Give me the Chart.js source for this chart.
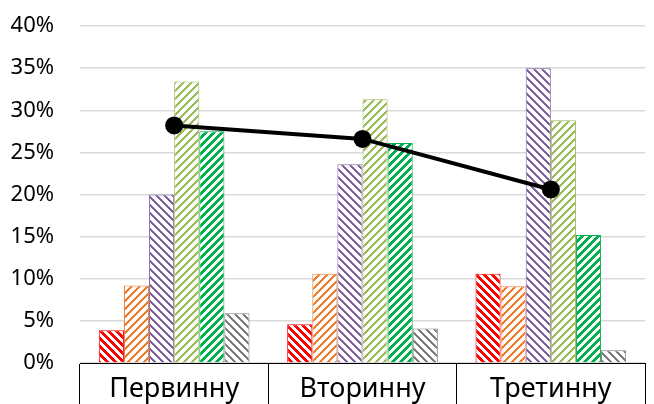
<!DOCTYPE html>
<html>
<head>
<meta charset="utf-8">
<script src="https://cdn.jsdelivr.net/npm/chart.js@4"></script>
<style>
  html, body { margin: 0; padding: 0; background: #fff; overflow: hidden; }
  #wrap { width: 654px; height: 404px; }
</style>
</head>
<body>
<div id="wrap"><canvas id="chart"></canvas></div>
<script>
const categories = ['Первинну', 'Вторинну', 'Третинну'];

// six hatched bar series (percent values)
const seriesRed = [3.9, 4.6, 10.6];
const seriesOrange = [9.2, 10.6, 9.1];
const seriesPurple = [20.0, 23.6, 35.0];
const seriesLightGreen = [33.4, 31.3, 28.8];
const seriesGreen = [27.5, 26.1, 15.2];
const seriesGray = [5.9, 4.1, 1.5];

// black line on top
const lineValues = [28.2, 26.6, 20.6];

const yTicks = [0, 5, 10, 15, 20, 25, 30, 35, 40];

// crisp pixel hatch, like the office "wide diagonal" fills
function makeHatch(color, dir, w) {
    const size = 8;
    const c = document.createElement('canvas');
    c.width = size;
    c.height = size;
    const g = c.getContext('2d');
    g.fillStyle = '#fff';
    g.fillRect(0, 0, size, size);
    g.fillStyle = color;
    for (let y = 0; y < size; y++) {
        for (let x = 0; x < size; x++) {
            const k = dir === 'down' ? (x - y + size * 2) % size : (x + y) % size;
            if (k < w) g.fillRect(x, y, 1, 1);
        }
    }
    return g.createPattern(c, 'repeat');
}

function barSet(label, data, color, dir, w) {
    return {
        type: 'bar',
        label: label,
        data: data,
        backgroundColor: makeHatch(color, dir, w),
        borderColor: color,
        borderWidth: 1,
        order: 1
    };
}

const ctx = document.getElementById('chart').getContext('2d');

new Chart(ctx, {
    data: {
        labels: categories,
        datasets: [
            {
                type: 'line',
                label: 'line',
                data: lineValues,
                borderColor: '#000',
                backgroundColor: '#000',
                borderWidth: 4,
                pointRadius: 9,
                pointHoverRadius: 9,
                pointBackgroundColor: '#000',
                pointBorderWidth: 0,
                tension: 0,
                order: 0
            },
            barSet('s1', seriesRed, '#FF0000', 'down', 4),
            barSet('s2', seriesOrange, '#ED7D31', 'up', 3),
            barSet('s3', seriesPurple, '#8064A2', 'down', 3),
            barSet('s4', seriesLightGreen, '#9BBB59', 'up', 3),
            barSet('s5', seriesGreen, '#00B050', 'up', 4),
            barSet('s6', seriesGray, '#7F7F7F', 'down', 3)
        ]
    },
    options: {
        responsive: true,
        maintainAspectRatio: false,
        animation: false,
        events: [],
        layout: { padding: { top: 26, right: 4, left: 0, bottom: 0 } },
        datasets: {
            bar: { categoryPercentage: 0.8, barPercentage: 1.0 }
        },
        plugins: {
            legend: { display: false },
            tooltip: { enabled: false }
        },
        scales: {
            x: {
                offset: true,
                grid: {
                    offset: true,
                    drawOnChartArea: false,
                    drawTicks: true,
                    tickLength: 41,
                    color: '#000',
                    lineWidth: 1
                },
                border: { display: true, color: '#000', width: 1 },
                ticks: {
                    padding: -31,
                    color: '#000',
                    maxRotation: 0,
                    font: { family: 'Noto Sans', size: 27 }
                },
                afterFit: function(scale) { scale.height = 41; }
            },
            y: {
                min: 0,
                max: 40,
                afterBuildTicks: function(scale) {
                    scale.ticks = yTicks.map(v => ({ value: v }));
                },
                grid: {
                    color: '#D9D9D9',
                    lineWidth: 1.5,
                    drawTicks: false
                },
                border: { display: false },
                ticks: {
                    padding: 26,
                    color: '#000',
                    font: { family: 'Noto Sans', size: 22 },
                    callback: v => v + '%'
                },
                afterFit: function(scale) {
                    scale.width = 80;
                    scale.paddingTop = 0;
                    scale.paddingBottom = 0;
                }
            }
        }
    }
});
</script>
</body>
</html>
